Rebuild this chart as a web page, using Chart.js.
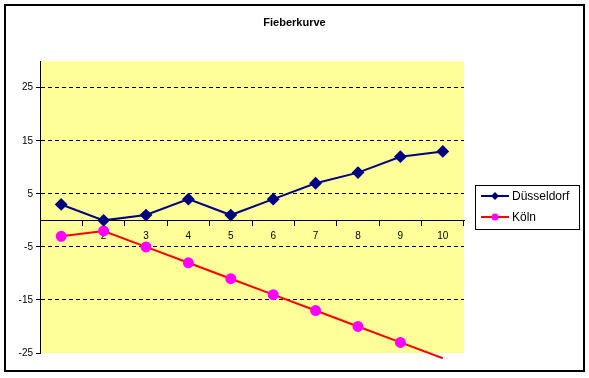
<!DOCTYPE html>
<html>
<head>
<meta charset="utf-8">
<script src="https://cdn.jsdelivr.net/npm/chart.js@4"></script>
<style>
  html, body { margin: 0; padding: 0; background: #fff; }
  #wrap { width: 589px; height: 378px; }
</style>
</head>
<body>
<div id="wrap"><canvas id="feverChart" width="589" height="378"></canvas></div>
<script>
const chartTitle = 'Fieberkurve';
const categories = ['1', '2', '3', '4', '5', '6', '7', '8', '9', '10'];
const duesseldorfValues = [3, 0, 1, 4, 1, 4, 7, 9, 12, 13];
const koelnValues = [-3, -2, -5, -8, -11, -14, -17, -20, -23, -26];
const seriesNames = ['Düsseldorf', 'Köln'];
const yTicks = [-25, -15, -5, 5, 15, 25];
const yMin = -25;
const yMax = 30;

const FONT = '"Liberation Sans", Arial, sans-serif';

// plot background, outer frame and the Excel-like legend box
const excelLook = {
  id: 'excelLook',
  beforeDraw(chart) {
    const { ctx, chartArea: a } = chart;
    ctx.save();
    ctx.fillStyle = '#fff';
    ctx.fillRect(0, 0, chart.width, chart.height);
    ctx.fillStyle = '#ffff99';
    ctx.fillRect(a.left, a.top, a.right - a.left, a.bottom - a.top);
    ctx.restore();
  },
  afterDraw(chart) {
    const { ctx } = chart;
    ctx.save();
    ctx.strokeStyle = '#000';
    ctx.lineWidth = 2;
    ctx.strokeRect(5, 5, 579, 366);

    ctx.lineWidth = 1;
    ctx.strokeRect(475.5, 185.5, 104, 44);
    ctx.font = '12px ' + FONT;
    ctx.textBaseline = 'middle';
    chart.data.datasets.forEach((ds, i) => {
      const y = 196 + i * 21;
      ctx.strokeStyle = ds.borderColor;
      ctx.lineWidth = 2;
      ctx.beginPath();
      ctx.moveTo(481, y);
      ctx.lineTo(509, y);
      ctx.stroke();
      ctx.fillStyle = ds.pointBackgroundColor;
      ctx.beginPath();
      if (ds.pointStyle === 'rectRot') {
        ctx.moveTo(495, y - 4);
        ctx.lineTo(499, y);
        ctx.lineTo(495, y + 4);
        ctx.lineTo(491, y);
      } else {
        ctx.arc(495, y, 3.5, 0, Math.PI * 2);
      }
      ctx.closePath();
      ctx.fill();
      ctx.fillStyle = '#000';
      ctx.fillText(ds.label, 512, y + 1);
    });
    ctx.restore();
  }
};

const ctx = document.getElementById('feverChart').getContext('2d');
const feverChart = new Chart(ctx, {
  type: 'line',
  data: {
    labels: categories,
    datasets: [{
      label: seriesNames[0],
      data: duesseldorfValues,
      borderColor: '#000080',
      borderWidth: 2,
      pointStyle: 'rectRot',
      pointRadius: 5,
      pointBackgroundColor: '#000080',
      pointBorderColor: '#000080',
      tension: 0
    }, {
      label: seriesNames[1],
      data: koelnValues,
      borderColor: '#ff0000',
      borderWidth: 2,
      pointStyle: 'circle',
      pointRadius: c => (c.raw < yMin ? 0 : 4.5),
      pointBackgroundColor: '#ff00ff',
      pointBorderColor: '#ff00ff',
      tension: 0,
      clip: { left: 0, top: 0, right: 0, bottom: 6 }
    }]
  },
  options: {
    responsive: false,
    animation: false,
    layout: { padding: { left: 0, right: 0, top: 0, bottom: 25 } },
    plugins: {
      legend: { display: false },
      tooltip: { enabled: false },
      title: {
        display: true,
        text: chartTitle,
        color: '#000',
        font: { family: FONT, size: 11, weight: 'bold' },
        padding: { top: 16, bottom: 32 }
      }
    },
    scales: {
      x: {
        type: 'category',
        offset: true,
        position: { y: 0 },
        grid: {
          offset: true,
          drawOnChartArea: false,
          drawTicks: true,
          tickLength: 5,
          tickColor: '#000'
        },
        border: { display: true, color: '#000', width: 1 },
        ticks: {
          color: '#000',
          font: { family: FONT, size: 10 },
          padding: 5,
          maxRotation: 0
        }
      },
      y: {
        min: yMin,
        max: yMax,
        afterBuildTicks: scale => {
          scale.ticks = yTicks.map(v => ({ value: v }));
        },
        afterFit: scale => { scale.width = 40; },
        grid: {
          color: c => (c.tick && c.tick.value === yMin ? 'rgba(0,0,0,0)' : '#000'),
          tickColor: '#000',
          tickLength: 4,
          lineWidth: 1
        },
        border: { display: true, color: '#000', width: 1, dash: [4, 3] },
        ticks: {
          color: '#000',
          font: { family: FONT, size: 10 },
          padding: 3
        }
      },
      // empty right-hand axis that keeps room for the legend
      legendSpace: {
        type: 'linear',
        position: 'right',
        min: yMin,
        max: yMax,
        afterFit: scale => { scale.width = 125; },
        grid: { display: false, drawOnChartArea: false },
        border: { display: false },
        ticks: { display: false }
      }
    }
  },
  plugins: [excelLook]
});
</script>
</body>
</html>
